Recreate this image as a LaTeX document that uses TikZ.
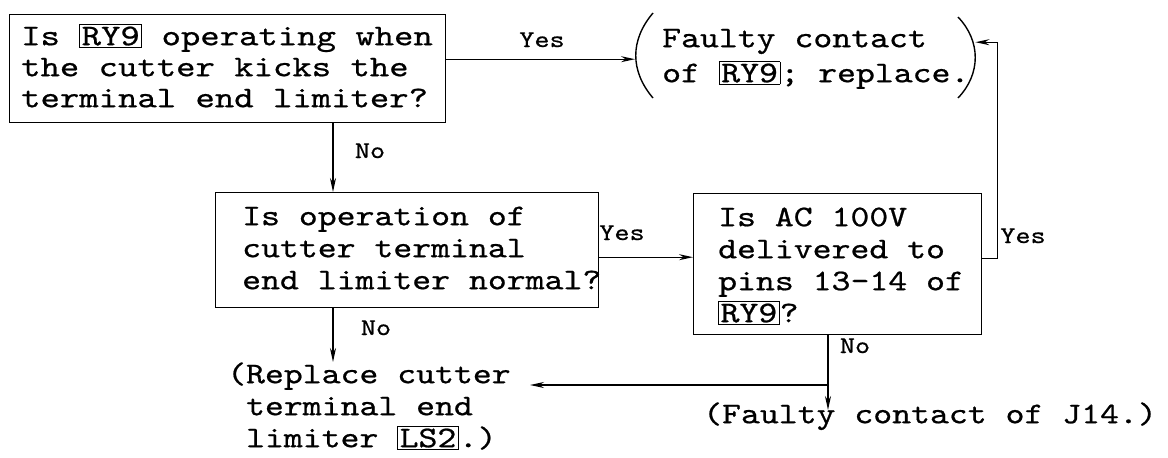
\documentclass[tikz,border=0pt]{standalone}
\usepackage{fontspec}
\setmonofont{lmmono10-regular.otf}[FakeStretch=1.2,FakeBold=0.7]
\newfontfamily\wtt{lmmono10-regular.otf}[FakeStretch=1.23,FakeBold=0.7]
\usetikzlibrary{arrows.meta,calc}
\newcommand\bxd[1]{{\setlength\fboxsep{1.5pt}\setlength\fboxrule{0.9pt}\fbox{#1}}}
\begin{document}
\begin{tikzpicture}[x=1pt,y=-1pt,
  every node/.style={font=\ttfamily\fontsize{30}{32}\selectfont},
  box/.style={draw,line width=1.4pt,rectangle,anchor=north west,inner sep=0pt},
  txt/.style={inner sep=0pt,align=left,anchor=north west},
  lbl/.style={font=\ttfamily\fontsize{24}{26}\selectfont,inner sep=0pt,anchor=base},
  line/.style={line width=1.4pt},
  arr/.style={line,-{Stealth[length=14pt,width=6pt]}}]
\useasboundingbox (0,0) rectangle (1168,458);
% boxes
\node[box,minimum width=436pt,minimum height=108pt] (b1) at (9,14) {};
\node[box,minimum width=383pt,minimum height=115pt] (b2) at (215,192) {};
\node[box,minimum width=288pt,minimum height=141pt] (b3) at (693,193) {};
\node[inner sep=0pt,minimum width=340pt,minimum height=92pt,anchor=north west] (f) at (635,13) {};
% texts
\node[txt,font=\wtt\fontsize{30}{31}\selectfont] (t1) at (21,21) {\rule{0pt}{24pt}Is \bxd{RY9} operating when\\the cutter kicks the\\terminal end limiter?};
\node[txt] (t2) at (242,201) {\rule{0pt}{24pt}Is operation of\\cutter terminal\\end limiter normal?};
\node[txt] (t3) at (718,202) {\rule{0pt}{24pt}Is AC 100V\\delivered to\\pins 13-14 of\\\bxd{RY9}?};
\node[txt,font=\ttfamily\fontsize{30}{35}\selectfont] (ft) at (662,23) {\rule{0pt}{24pt}Faulty contact\\of \bxd{RY9}; replace.};
\node[txt] (r) at (227,359) {\rule{0pt}{24pt}(Replace cutter\\\hphantom{(}terminal end\\\hphantom{(}limiter \bxd{LS2}.)};
\node[txt] (j) at (703,399) {\rule{0pt}{24pt}(Faulty contact of J14.)};
% parentheses
\draw[line] (653,13) .. controls (630,40) and (630,71) .. (653,98);
\draw[line] (958,17) .. controls (981,41) and (981,74) .. (958,98);
% coordinates
\coordinate (cx) at (333,0);
\coordinate (cy) at (828,0);
\coordinate (m) at (828,385);
\coordinate (rt) at (530,385);
% connectors
\draw[arr] (b1.east |- f.west) -- (f.west);
\draw[arr] (b1.south -| cx) -- (b2.north -| cx);
\draw[arr] (b2.south -| cx) -- ($(cx |- r.north)+(0,3)$);
\draw[arr] ([yshift=-7pt]b2.east) -- ([yshift=-7pt]b2.east -| b3.west);
\draw[arr] ([yshift=5.5pt]b3.east) -- ++(15,0) |- ([yshift=17pt]f.east);
\draw[arr] (b3.south -| cy) -- ($(cy |- j.north)+(0,11)$);
\draw[arr] (m) -- (rt);
% labels
\node[lbl] (y1) at (542,47) {Yes};
\node[lbl] (n1) at (370,158) {No};
\node[lbl] (y2) at (622,240) {Yes};
\node[lbl] (n2) at (376,335) {No};
\node[lbl] (y3) at (1023,243) {Yes};
\node[lbl] (n3) at (855,353) {No};
\end{tikzpicture}
\end{document}
